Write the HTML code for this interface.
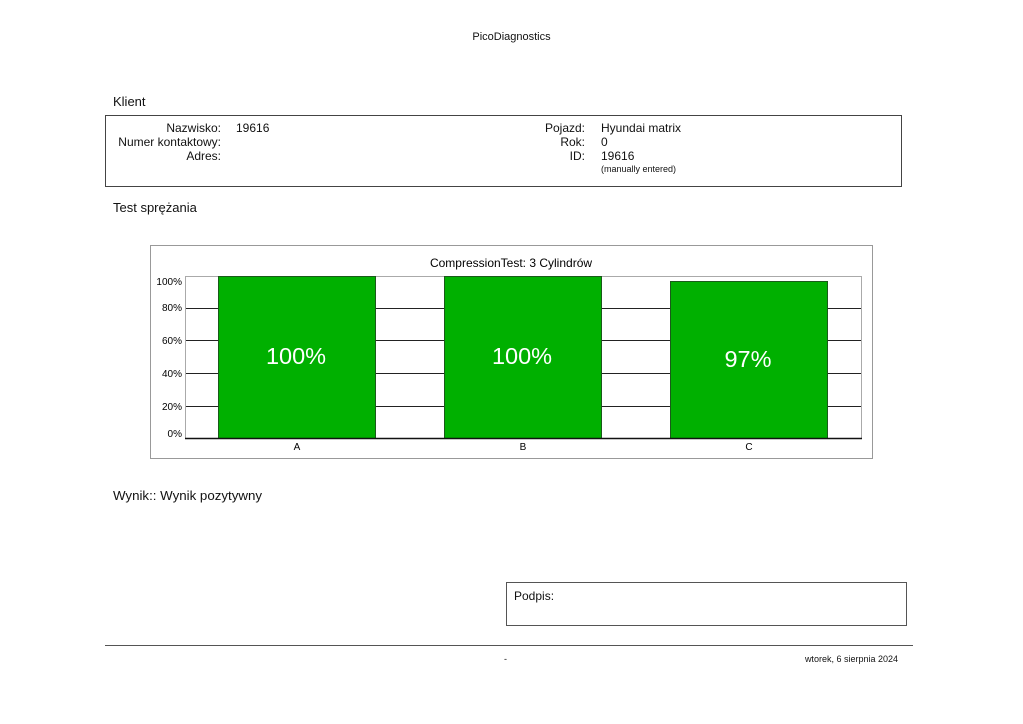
<!DOCTYPE html>
<html><head><meta charset="utf-8"><style>
body{margin:0;width:1023px;height:724px;background:#fff;position:relative;overflow:hidden;font-family:"Liberation Sans",sans-serif;color:#111}
.a{position:absolute;white-space:nowrap}
.r{text-align:right}
</style></head><body>
<div class="a" style="left:0;width:1023px;text-align:center;top:31px;font-size:11px">PicoDiagnostics</div>
<div class="a" style="left:113px;top:94px;font-size:13px">Klient</div>
<div class="a" style="left:105px;top:115px;width:795px;height:70px;border:1px solid #444"></div>
<div class="a r" style="left:100px;width:121px;top:121px;font-size:12px;line-height:14px">Nazwisko:<br>Numer kontaktowy:<br>Adres:</div>
<div class="a" style="left:236px;top:121px;font-size:12px">19616</div>
<div class="a r" style="left:500px;width:85px;top:121px;font-size:12px;line-height:14px">Pojazd:<br>Rok:<br>ID:</div>
<div class="a" style="left:601px;top:121px;font-size:12px;line-height:14px">Hyundai matrix<br>0<br>19616</div>
<div class="a" style="left:601px;top:164px;font-size:9px">(manually entered)</div>
<div class="a" style="left:113px;top:200px;font-size:13px">Test sprężania</div>
<svg class="a" style="left:0;top:0" width="1023" height="724">
<rect x="150.5" y="245.5" width="722" height="213" fill="#fff" stroke="#999"/>
<text x="511" y="267" font-size="12" text-anchor="middle" font-family="Liberation Sans">CompressionTest: 3 Cylindrów</text>
<rect x="185.5" y="276.5" width="676" height="162" fill="#fff" stroke="#aaa"/>
<g stroke="#222">
<line x1="186" x2="861" y1="308.5" y2="308.5"/><line x1="186" x2="861" y1="340.5" y2="340.5"/>
<line x1="186" x2="861" y1="373.5" y2="373.5"/><line x1="186" x2="861" y1="406.5" y2="406.5"/>
</g>
<g fill="#00b000" stroke="#1a5a1a">
<rect x="218.5" y="276.5" width="157" height="162"/>
<rect x="444.5" y="276.5" width="157" height="162"/>
<rect x="670.5" y="281.5" width="157" height="157"/>
</g>
<line x1="185" x2="862" y1="438.5" y2="438.5" stroke="#111" stroke-width="1.5"/>
<g font-size="10" text-anchor="end" font-family="Liberation Sans">
<text x="182" y="285">100%</text><text x="182" y="311">80%</text><text x="182" y="344">60%</text>
<text x="182" y="377">40%</text><text x="182" y="410">20%</text><text x="182" y="437">0%</text>
</g>
<g font-size="10" text-anchor="middle" font-family="Liberation Sans">
<text x="297" y="450">A</text><text x="523" y="450">B</text><text x="749" y="450">C</text>
</g>
<g font-size="23.5" fill="#fff" text-anchor="middle" font-family="Liberation Sans">
<text x="296" y="364">100%</text><text x="522" y="364">100%</text><text x="748" y="367">97%</text>
</g>
<rect x="506.5" y="582.5" width="400" height="43" fill="none" stroke="#555"/>
<line x1="105" x2="913" y1="645.5" y2="645.5" stroke="#555"/>
</svg>
<div class="a" style="left:113px;top:488px;font-size:13.3px">Wynik:: Wynik pozytywny</div>
<div class="a" style="left:514px;top:589px;font-size:12px">Podpis:</div>
<div class="a" style="left:504px;top:654px;font-size:9px">-</div>
<div class="a r" style="left:700px;width:198px;top:654px;font-size:9px">wtorek, 6 sierpnia 2024</div>
</body></html>
